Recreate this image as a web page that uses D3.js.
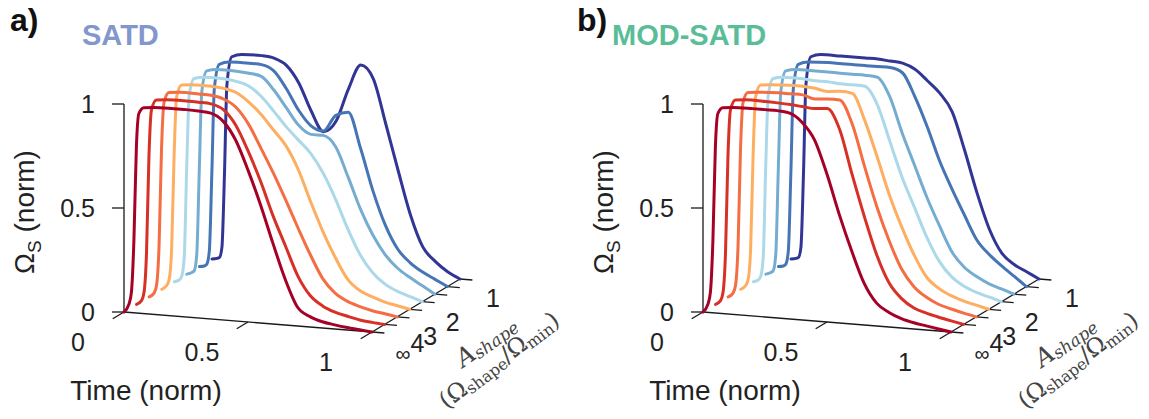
<!DOCTYPE html>
<html><head><meta charset="utf-8">
<script src="https://cdn.jsdelivr.net/npm/d3@7"></script>
<style>body{margin:0;background:#fff} svg{display:block}</style>
</head><body><svg id="c" width="1149" height="419"></svg>
<script>
// ---- data ----
const timeGrid = [0, .02, .03, .04, .05, .06, .08, .12, .2, .25, .3, .35, .4, .45, .5, .55, .6, .65, .7, .75, .8, .85, .9, .95, 1];
const shapeLabels = ["∞", "4", "3", "2", "1"];
const shapeLabelPos = [-0.15, 1, 2, 3.8, 7];
const shapeTicks = [0, 1, 2, 3, 4, 5, 6, 7];
const timeTicks = [0, 0.5, 1];
const omegaTicks = [0, 0.5, 1];
const seriesColors = ["#a50026", "#d73027", "#f46d43", "#fdae61", "#abd9e9", "#74add1", "#4575b4", "#313695"];

// SATD (panel a), front (A=∞) to back (A=1)
const satd0 = [0,.04,.1,.35,.8,.96,.99,.995,.997,.997,.995,.99,.955,.87,.73,.57,.39,.22,.09,.05,.03,.02,.012,.006,0];
const satd1 = [0,.02,.06,.25,.72,.94,.99,.995,.997,.996,.993,.97,.90,.78,.64,.48,.34,.2,.11,.065,.04,.025,.012,.005,0];
const satd2 = [0,.02,.06,.25,.72,.94,.99,.995,.995,.993,.98,.945,.87,.76,.645,.52,.39,.265,.155,.09,.055,.035,.02,.01,0];
const satd3 = [0,.02,.05,.2,.65,.93,.99,.995,.995,.99,.975,.935,.88,.81,.74,.63,.48,.34,.22,.12,.07,.045,.025,.012,0];
const satd4 = [0,.01,.03,.12,.55,.9,.985,.995,.995,.987,.97,.925,.86,.79,.73,.67,.58,.46,.32,.2,.12,.07,.04,.02,0];
const satd5 = [0,.01,.02,.1,.5,.88,.985,.995,.995,.99,.98,.92,.84,.76,.72,.72,.67,.53,.38,.26,.17,.11,.07,.035,0];
const satd6 = [0,.005,.015,.08,.45,.86,.98,.995,.997,.995,.97,.89,.79,.72,.70,.78,.80,.63,.43,.27,.16,.1,.06,.03,0];
const satd7 = [0,.005,.01,.06,.4,.84,.98,.995,.997,.99,.96,.88,.75,.655,.71,.87,.99,.93,.72,.5,.29,.14,.075,.03,0];

// MOD-SATD (panel b)
const mod0 = [0,.04,.1,.35,.8,.96,.99,.995,.997,.997,.997,.99,.95,.87,.71,.52,.35,.2,.11,.07,.045,.03,.02,.01,0];
const mod1 = [0,.02,.06,.25,.72,.94,.99,.995,.995,.993,.99,.985,.98,.985,.89,.68,.48,.3,.17,.1,.06,.04,.025,.012,0];
const mod2 = [0,.02,.06,.25,.72,.94,.99,.995,1,1,1,.985,.99,.99,.88,.68,.49,.33,.2,.12,.075,.045,.028,.013,0];
const mod3 = [0,.02,.05,.2,.65,.93,.99,.995,1,1,.995,.985,.99,.985,.86,.69,.51,.36,.23,.13,.08,.05,.03,.015,0];
const mod4 = [0,.01,.03,.12,.55,.9,.985,.995,.995,.99,.99,.985,.985,.983,.9,.73,.56,.42,.28,.17,.1,.06,.035,.018,0];
const mod5 = [0,.01,.02,.1,.5,.88,.985,.995,.996,.996,.995,.995,.995,.99,.9,.73,.58,.43,.3,.18,.11,.07,.04,.02,0];
const mod6 = [0,.005,.015,.08,.45,.86,.98,.995,1,1,1,1,1,1,.98,.87,.73,.57,.44,.32,.205,.14,.09,.045,0];
const mod7 = [0,.005,.01,.06,.4,.84,.98,.995,.995,.995,.995,.995,.99,.985,.96,.91,.855,.77,.59,.39,.22,.11,.06,.03,0];

const panels = [
  {ox: 124, oy: 312, letter: "a)", letterX: 10, title: "SATD", titleX: 82, titleColor: "#8497cc", series: [satd0, satd1, satd2, satd3, satd4, satd5, satd6, satd7]},
  {ox: 703, oy: 312, letter: "b)", letterX: 577, title: "MOD-SATD", titleX: 612, titleColor: "#5bbd97", series: [mod0, mod1, mod2, mod3, mod4, mod5, mod6, mod7]}
];

// ---- projection scales ----
const tX = d3.scaleLinear().domain([0, 1]).range([0, 248]);
const tY = d3.scaleLinear().domain([0, 1]).range([0, 20]);
const dX = d3.scaleLinear().domain([0, 7]).range([0, 88]);
const dY = d3.scaleLinear().domain([0, 7]).range([0, -53]);
const zS = d3.scaleLinear().domain([0, 1]).range([0, -208]);

const svg = d3.select("#c");
const FONT = "'Liberation Sans', Arial, Helvetica, sans-serif";
const SERIF = "'DejaVu Serif', 'Liberation Serif', serif";

panels.forEach(p => {
  const P = (t, d, z) => [p.ox + tX(t) + dX(d), p.oy + tY(t) + dY(d) + zS(z)];
  const g = svg.append("g");
  const ax = g.append("g").attr("stroke", "#1a1a1a").attr("stroke-width", 1.3).attr("fill", "none");
  // vertical axis
  ax.append("line").attr("x1", P(0,0,0)[0]).attr("y1", P(0,0,0)[1]).attr("x2", P(0,0,1)[0]).attr("y2", P(0,0,1)[1]);
  omegaTicks.forEach(v => {
    const [x, y] = P(0, 0, v);
    ax.append("line").attr("x1", x).attr("y1", y).attr("x2", x - 12).attr("y2", y);
    g.append("text").attr("x", x - 29).attr("y", y + 9).attr("text-anchor", "end")
      .attr("font-family", FONT).attr("font-size", 25).attr("fill", "#222").text(v);
  });
  // time axis
  ax.append("line").attr("x1", P(0,0,0)[0]).attr("y1", P(0,0,0)[1]).attr("x2", P(1,0,0)[0]).attr("y2", P(1,0,0)[1]);
  timeTicks.forEach(v => {
    const [x, y] = P(v, 0, 0);
    const [x2, y2] = P(v, -0.9, 0);
    ax.append("line").attr("x1", x).attr("y1", y).attr("x2", x2).attr("y2", y2);
    g.append("text").attr("x", x - 46).attr("y", y + 39).attr("text-anchor", "middle")
      .attr("font-family", FONT).attr("font-size", 25).attr("fill", "#222").text(v);
  });
  // depth axis
  ax.append("line").attr("x1", P(1,0,0)[0]).attr("y1", P(1,0,0)[1]).attr("x2", P(1,7,0)[0]).attr("y2", P(1,7,0)[1]);
  shapeTicks.forEach(v => {
    const [x, y] = P(1, v, 0);
    const [x2, y2] = P(1.05, v, 0);
    ax.append("line").attr("x1", x).attr("y1", y).attr("x2", x2).attr("y2", y2);
  });
  shapeLabels.forEach((lab, i) => {
    const [x, y] = P(1, shapeLabelPos[i], 0);
    g.append("text").attr("x", x + 33).attr("y", y + 28).attr("text-anchor", "middle")
      .attr("font-family", FONT).attr("font-size", lab === "∞" ? 21 : 25).attr("fill", "#222").text(lab);
  });
  // curves back to front
  const line = d3.line().curve(d3.curveMonotoneX);
  for (let i = p.series.length - 1; i >= 0; i--) {
    const pts = timeGrid.map((t, k) => P(t, i, p.series[i][k]));
    g.append("path").attr("d", line(pts)).attr("fill", "none")
      .attr("stroke", seriesColors[i]).attr("stroke-width", 3)
      .attr("stroke-linejoin", "round").attr("stroke-linecap", "round");
  }
  // labels
  g.append("text").attr("x", p.letterX).attr("y", 31).attr("font-family", FONT)
    .attr("font-weight", "bold").attr("font-size", 32).attr("fill", "#111").text(p.letter);
  g.append("text").attr("x", p.titleX).attr("y", 45).attr("font-family", FONT)
    .attr("font-weight", "bold").attr("font-size", 29).attr("fill", p.titleColor).text(p.title);
  g.append("text").attr("x", p.ox + 22).attr("y", 400).attr("text-anchor", "middle")
    .attr("font-family", FONT).attr("font-size", 28).attr("fill", "#222").text("Time (norm)");
  const yl = g.append("text").attr("transform", `translate(${p.ox - 90},212) rotate(-90)`)
    .attr("text-anchor", "middle").attr("font-family", FONT).attr("font-size", 28).attr("fill", "#222");
  yl.append("tspan").text("Ω");
  yl.append("tspan").attr("dy", 7).attr("font-size", 19).text("S");
  yl.append("tspan").attr("dy", -7).text(" (norm)");
  // depth axis title
  const l1 = g.append("text").attr("transform", `translate(${p.ox + 362},${p.oy + 29}) rotate(-35)`)
    .attr("text-anchor", "middle").attr("dominant-baseline", "central").attr("font-family", SERIF).attr("fill", "#444");
  l1.append("tspan").attr("font-style", "italic").attr("font-size", 25).text("A");
  l1.append("tspan").attr("font-style", "italic").attr("font-size", 17).attr("dy", 5).text("shape");
  const l2 = g.append("text").attr("transform", `translate(${p.ox + 375},${p.oy + 48}) rotate(-37)`)
    .attr("text-anchor", "middle").attr("dominant-baseline", "central").attr("font-family", SERIF).attr("fill", "#444");
  l2.append("tspan").attr("font-size", 23.5).text("(Ω");
  l2.append("tspan").attr("font-size", 16).attr("dy", 5).text("shape");
  l2.append("tspan").attr("font-size", 23.5).attr("dy", -5).text("/Ω");
  l2.append("tspan").attr("font-size", 16).attr("dy", 5).text("min");
  l2.append("tspan").attr("font-size", 23.5).attr("dy", -5).text(")");
});
</script></body></html>
